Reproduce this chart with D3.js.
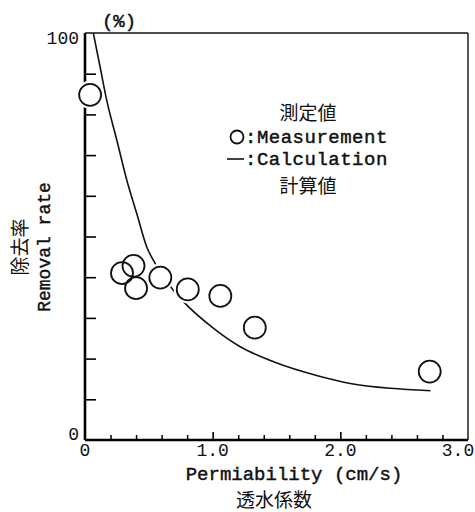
<!DOCTYPE html>
<html>
<head>
<meta charset="utf-8">
<script src="https://cdn.jsdelivr.net/npm/d3@7"></script>
<style>
  body { margin: 0; background: #fff; }
  text { font-family: "Liberation Mono", "DejaVu Sans Mono", monospace; fill: #111; }
  .cjk { font-family: "Noto Sans CJK JP", "Noto Sans CJK SC", sans-serif; }
  .lbl { stroke: #111; stroke-width: 0.45px; }
</style>
</head>
<body>
<div id="chart-area"></div>
<script>
// Measured values (circles)
var measX = [0.04, 0.29, 0.38, 0.40, 0.59, 0.805, 1.06, 1.33, 2.70];
var measY = [84.8, 41.0, 42.8, 37.3, 39.9, 37.0, 35.4, 27.6, 16.8];

// Calculated curve
var calcX = [0.065, 0.118, 0.17, 0.249, 0.327, 0.405, 0.483, 0.549, 0.68, 0.771, 1.0, 1.216, 1.477, 1.843, 2.078, 2.392, 2.706];
var calcY = [100, 91.7, 83.5, 73.7, 63.9, 55.7, 47.5, 43.4, 37.3, 34.0, 27.6, 22.9, 19.2, 15.6, 13.9, 12.7, 12.1];

// Tick labels
var yLabels = [0, 100];
var xLabels = ['0', '1.0', '2.0', '3.0'];
var xLabelVals = [0, 1, 2, 3];

var margin = {left: 85, right: 7, top: 33, bottom: 72};
var width = 475 - margin.left - margin.right;
var height = 512 - margin.top - margin.bottom;

var svg = d3.select('#chart-area')
  .append('svg')
  .attr('width', 475)
  .attr('height', 512);

var g = svg.append('g')
  .attr('transform', 'translate(' + margin.left + ', ' + margin.top + ')');

var x = d3.scaleLinear().domain([0, 3]).range([0, width]);
var y = d3.scaleLinear().domain([0, 100]).range([height, 0]);

// frame: top and right thin
g.append('line').attr('x1', 0).attr('x2', width).attr('y1', 0).attr('y2', 0)
  .attr('stroke', '#111').attr('stroke-width', 1.4);
g.append('line').attr('x1', width).attr('x2', width).attr('y1', 0).attr('y2', height)
  .attr('stroke', '#111').attr('stroke-width', 1.4);

// y axis, ticks pointing in
var yAxis = g.append('g')
  .attr('class', 'y-axis')
  .call(d3.axisLeft(y).tickValues(d3.range(10, 100, 10)).tickSize(-11).tickFormat(''));
yAxis.select('.domain').attr('stroke-width', 2.6).attr('d', 'M0,0V' + height);
yAxis.selectAll('.tick line').attr('stroke-width', 1.6);

g.selectAll('.ylab')
  .data(yLabels)
  .enter()
  .append('text')
  .attr('class', 'ylab')
  .attr('x', -6)
  .attr('y', function (d) { return y(d); })
  .attr('dy', function (d) { return d === 100 ? 11 : 0; })
  .attr('text-anchor', 'end')
  .attr('font-size', '18px')
  .text(function (d) { return d; });

// x axis, minor + major ticks pointing in
var xMinor = g.append('g')
  .attr('class', 'x-axis')
  .attr('transform', 'translate(0, ' + height + ')')
  .call(d3.axisBottom(x).tickValues(d3.range(0.2, 3, 0.2).filter(function (d) {
    return Math.abs(d - Math.round(d)) > 0.01;
  })).tickSize(-5).tickFormat(''));
xMinor.select('.domain').attr('stroke-width', 2.6).attr('d', 'M0,0H' + width);
xMinor.selectAll('.tick line').attr('stroke-width', 1.5);

var xMajor = g.append('g')
  .attr('transform', 'translate(0, ' + height + ')')
  .call(d3.axisBottom(x).tickValues([1, 2]).tickSize(-8).tickFormat(''));
xMajor.select('.domain').remove();
xMajor.selectAll('.tick line').attr('stroke-width', 1.6);

g.selectAll('.xlab')
  .data(xLabelVals)
  .enter()
  .append('text')
  .attr('class', 'xlab')
  .attr('x', function (d) { return x(d); })
  .attr('dx', function (d) { return d === 3 ? -10 : 0; })
  .attr('y', height + 16)
  .attr('text-anchor', 'middle')
  .attr('font-size', '18px')
  .text(function (d, i) { return xLabels[i]; });

// calculation curve
var calc = calcX.map(function (d, i) { return [d, calcY[i]]; });
var line = d3.line()
  .x(function (d) { return x(d[0]); })
  .y(function (d) { return y(d[1]); })
  .curve(d3.curveMonotoneX);
g.append('path')
  .datum(calc)
  .attr('d', line)
  .attr('fill', 'none')
  .attr('stroke', '#111')
  .attr('stroke-width', 1.6);

// measurement circles (white halo hides the line underneath)
var meas = measX.map(function (d, i) { return [d, measY[i]]; });
g.selectAll('.halo')
  .data(meas)
  .enter()
  .append('circle')
  .attr('cx', function (d) { return x(d[0]); })
  .attr('cy', function (d) { return y(d[1]); })
  .attr('r', 11)
  .attr('fill', '#fff')
  .attr('stroke', '#fff')
  .attr('stroke-width', 6);
g.selectAll('.pt')
  .data(meas)
  .enter()
  .append('circle')
  .attr('class', 'pt')
  .attr('cx', function (d) { return x(d[0]); })
  .attr('cy', function (d) { return y(d[1]); })
  .attr('r', 11)
  .attr('fill', 'none')
  .attr('stroke', '#111')
  .attr('stroke-width', 1.8);

// unit
svg.append('text')
  .attr('class', 'lbl')
  .attr('x', 119).attr('y', 27)
  .attr('text-anchor', 'middle')
  .attr('font-size', '19px')
  .text('(%)');

// legend
svg.append('text').attr('class', 'cjk')
  .attr('x', 308).attr('y', 120)
  .attr('text-anchor', 'middle')
  .attr('font-size', '19px')
  .text('測定値');
svg.append('circle')
  .attr('cx', 237).attr('cy', 137).attr('r', 6.5)
  .attr('fill', 'none').attr('stroke', '#111').attr('stroke-width', 1.8);
svg.append('text')
  .attr('class', 'lbl')
  .attr('x', 245).attr('y', 143)
  .attr('font-size', '19px')
  .attr('letter-spacing', '0.5px')
  .text(':Measurement');
svg.append('line')
  .attr('x1', 227).attr('x2', 244).attr('y1', 159).attr('y2', 159)
  .attr('stroke', '#111').attr('stroke-width', 1.6);
svg.append('text')
  .attr('class', 'lbl')
  .attr('x', 245).attr('y', 165)
  .attr('font-size', '19px')
  .attr('letter-spacing', '0.5px')
  .text(':Calculation');
svg.append('text').attr('class', 'cjk')
  .attr('x', 308).attr('y', 193)
  .attr('text-anchor', 'middle')
  .attr('font-size', '19px')
  .text('計算値');

// X labels
svg.append('text')
  .attr('class', 'lbl')
  .attr('x', 294).attr('y', 480)
  .attr('text-anchor', 'middle')
  .attr('font-size', '19px')
  .text('Permiability (cm/s)');
svg.append('text').attr('class', 'cjk')
  .attr('x', 274).attr('y', 507)
  .attr('text-anchor', 'middle')
  .attr('font-size', '19px')
  .text('透水係数');

// Y labels
svg.append('text')
  .attr('class', 'lbl')
  .attr('transform', 'translate(50, 247) rotate(-90)')
  .attr('text-anchor', 'middle')
  .attr('font-size', '18px')
  .text('Removal rate');
svg.append('text').attr('class', 'cjk')
  .attr('transform', 'translate(27, 247) rotate(-90)')
  .attr('text-anchor', 'middle')
  .attr('font-size', '19px')
  .text('除去率');
</script>
</body>
</html>
